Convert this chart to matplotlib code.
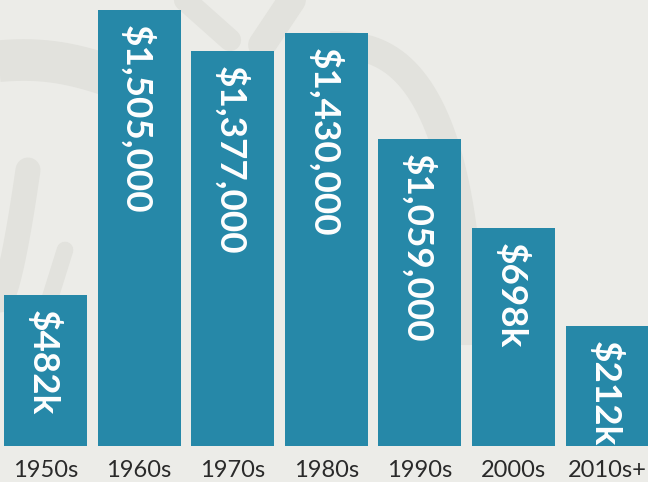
import matplotlib
matplotlib.use("Agg")
import matplotlib.pyplot as plt
import numpy as np

decades = ["1950s", "1960s", "1970s", "1980s", "1990s", "2000s", "2010s+"]
value_labels = ["$482k", "$1,505,000", "$1,377,000", "$1,430,000", "$1,059,000", "$698k", "$212k"]
# bar heights as drawn in the picture (thousands)
bar_heights = [520, 1505, 1363, 1425, 1059, 752, 413]

BG = "#ecece8"
SWIRL = "#e2e2dd"
BAR = "#2688a8"
TXT = "#2a2a2a"

W, H = 648, 482
fig = plt.figure(figsize=(W / 100, H / 100), dpi=100, facecolor=BG)

# decorative background swirls (pixel coordinates, y down)
bgax = fig.add_axes([0, 0, 1, 1], zorder=0)
bgax.set_xlim(0, W)
bgax.set_ylim(H, 0)
bgax.axis("off")
t = np.linspace(0, 1, 200)
# top-left band
bgax.plot(-10 + 120 * t, 62 - 4 * np.sin(t * np.pi) + 14 * t ** 2, color=SWIRL, lw=30, solid_capstyle="butt")
# big arc on the right
ang = np.linspace(np.pi * 1.0, np.pi * 1.55, 100)
bgax.plot(370 + 95 * np.cos(ang - np.pi) * -1 + 0, 0 * ang, alpha=0)
arc_t = np.linspace(0, 1, 200)
ax_pts = 330 + 140 * np.sin(arc_t * np.pi / 2)
ay_pts = 45 + 300 * (1 - np.cos(arc_t * np.pi / 2)) ** 1.3
bgax.plot(ax_pts, ay_pts, color=SWIRL, lw=20, solid_capstyle="butt")
# top strokes
bgax.plot(185 + 45 * t, 0 + 40 * t, color=SWIRL, lw=16, solid_capstyle="round")
bgax.plot(262 + 30 * t, 45 - 45 * t, color=SWIRL, lw=20, solid_capstyle="round")
# lower-left strokes
bgax.plot(0 + 28 * t, 300 - 130 * t ** 1.5, color=SWIRL, lw=18, solid_capstyle="round")
bgax.plot(40 + 25 * t, 330 - 80 * t, color=SWIRL, lw=12, solid_capstyle="round")

bottom_px = 445.7
ax = fig.add_axes([0, (H - bottom_px) / H, 1, bottom_px / H], zorder=1)
ax.patch.set_alpha(0)
px_per_k = 0.2895
x = np.arange(len(decades))
step = 93.6
x0 = -45.5 / step
ax.set_xlim(x0, x0 + W / step)
ax.set_ylim(0, bottom_px / px_per_k)
ax.axis("off")

bars = ax.bar(x, bar_heights, width=83 / step, color=BAR, linewidth=0)

for xi, h, lab in zip(x, bar_heights, value_labels):
    ax.annotate(lab, xy=(xi, h), xytext=(-1.5, -10.5), textcoords="offset points",
                rotation=270, ha="center", va="top", color="white",
                fontsize=26.6, fontweight="bold", family=["Lato", "DejaVu Sans"])

for xi, d in zip(x, decades):
    ax.annotate(d, xy=(xi, 0), xytext=(0, -22.5), textcoords="offset points",
                ha="center", va="baseline", color=TXT, fontsize=17,
                family=["Lato", "DejaVu Sans"], annotation_clip=False)

fig.savefig("out.png", dpi=100, facecolor=BG)
